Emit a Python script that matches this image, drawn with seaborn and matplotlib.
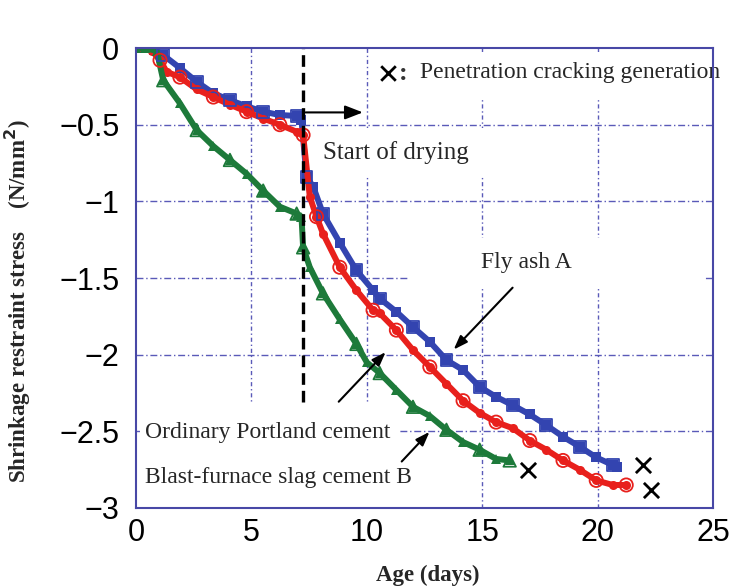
import matplotlib
matplotlib.use("Agg")
import matplotlib.pyplot as plt
from matplotlib.patches import Rectangle
import seaborn as sns
import pandas as pd

# ---------------- data ----------------
fly_x = [0.0, 0.4, 0.8, 1.18, 1.9, 2.63, 3.35, 4.07, 4.79, 5.51, 6.23, 6.96, 7.17,
         7.39, 7.68, 8.1, 8.83, 9.55, 10.27, 10.56, 11.28, 12.0, 12.73, 13.45, 14.17,
         14.89, 15.6, 16.33, 17.06, 17.78, 18.5, 19.22, 19.94, 20.66, 20.85]
fly_y = [0.0, 0.0, -0.01, -0.046, -0.13, -0.22, -0.295, -0.34, -0.38, -0.415, -0.437, -0.443, -0.47,
         -0.84, -0.905, -1.08, -1.27, -1.45, -1.58, -1.634, -1.72, -1.82, -1.916, -2.035, -2.10,
         -2.21, -2.275, -2.33, -2.39, -2.46, -2.535, -2.60, -2.67, -2.72, -2.73]

opc_x = [0.0, 0.3, 0.7, 1.04, 1.33, 1.9, 2.63, 3.35, 4.07, 4.79, 5.51, 6.23, 6.96, 7.24,
         7.53, 7.82, 8.1, 8.83, 9.55, 10.27, 10.56, 11.28, 12.0, 12.73, 13.45, 14.17,
         14.89, 15.6, 16.33, 17.06, 17.78, 18.5, 19.22, 19.94, 20.66, 21.24]
opc_y = [0.0, 0.0, -0.02, -0.08, -0.155, -0.19, -0.27, -0.32, -0.37, -0.415, -0.46, -0.50, -0.546, -0.567,
         -0.97, -1.10, -1.21, -1.43, -1.58, -1.71, -1.73, -1.84, -1.97, -2.08, -2.19, -2.30,
         -2.38, -2.44, -2.48, -2.56, -2.62, -2.69, -2.75, -2.82, -2.85, -2.85]

bfs_x = [0.0, 0.4, 0.9, 1.18, 1.9, 2.63, 3.35, 4.07, 4.79, 5.51, 6.23, 6.96, 7.17,
         7.24, 7.53, 8.1, 8.83, 9.55, 10.0, 10.56, 11.28, 12.0, 12.73, 13.45, 14.17,
         14.89, 15.6, 16.19]
bfs_y = [0.0, 0.0, -0.02, -0.21, -0.36, -0.535, -0.64, -0.73, -0.82, -0.93, -1.035, -1.08, -1.10,
         -1.30, -1.43, -1.60, -1.77, -1.93, -2.05, -2.12, -2.23, -2.34, -2.40, -2.49, -2.57,
         -2.62, -2.68, -2.69]

crack_x = [16.97, 21.95, 22.3]
crack_y = [-2.75, -2.72, -2.88]

drying_start = 7.23

x_ticks = [0, 5, 10, 15, 20, 25]
y_ticks = [0, -0.5, -1, -1.5, -2, -2.5, -3]
y_ticklabels = ["0", "\u22120.5", "\u22121", "\u22121.5", "\u22122", "\u22122.5", "\u22123"]

# ---------------- styling ----------------
sns.set_theme(style="white")
plt.rcParams["font.family"] = ["Liberation Sans", "DejaVu Sans"]
plt.rcParams["axes.unicode_minus"] = True

BLUE = "#3344b0"
RED = "#e8201c"
GREEN = "#1d7a3a"
AX_COL = "#4848a6"
GRID_COL = "#5a5ab8"
SERIF = ["Liberation Serif", "DejaVu Serif"]

fig = plt.figure(figsize=(7.34, 5.87), dpi=100)
ax = fig.add_axes([0.1853, 0.1346, 0.7861, 0.7836])

series = [
    ("Fly ash A", fly_x, fly_y, BLUE, "s", 8.5),
    ("Ordinary Portland cement", opc_x, opc_y, RED, "o", 9.5),
    ("Blast-furnace slag cement B", bfs_x, bfs_y, GREEN, "^", 9),
]

for name, xs, ys, col, mk, ms in series:
    df = pd.DataFrame({"Age": xs, "Stress": ys})
    sns.lineplot(data=df, x="Age", y="Stress", ax=ax, color=col, lw=4.3,
                 marker=mk, markersize=6.5, markeredgewidth=0, zorder=3,
                 estimator=None, sort=False)
    sub = df[df["Age"] >= 1.0].iloc[::2]
    sns.scatterplot(data=sub, x="Age", y="Stress", ax=ax, marker=mk, s=ms ** 2,
                    facecolors="none", edgecolor=col, linewidth=1.3, zorder=3.5)

# crack markers
cdf = pd.DataFrame({"Age": crack_x, "Stress": crack_y})
sns.scatterplot(data=cdf, x="Age", y="Stress", ax=ax, marker="x", s=120,
                color="black", linewidth=2, zorder=5)

# start of drying dashed line
ax.axvline(drying_start, color="black", lw=2.4, dashes=(3.5, 1.8), zorder=4)

# axes
ax.set_xlim(0, 25)
ax.set_ylim(-3, 0)
ax.set_xticks(x_ticks)
ax.set_yticks(y_ticks)
ax.set_yticklabels(y_ticklabels)
ax.tick_params(axis="both", labelsize=22, colors="black", length=4,
               direction="in", width=1.2)
ax.tick_params(axis="x", pad=7)
ax.tick_params(axis="y", pad=12)
for t in ax.get_xticklines() + ax.get_yticklines():
    t.set_color(AX_COL)
    t.set_zorder(7)
for s in ax.spines.values():
    s.set_color(AX_COL)
    s.set_linewidth(1.5)
    s.set_visible(True)
    s.set_zorder(7)

for yv in y_ticks[1:-1]:
    ax.axhline(yv, color=GRID_COL, lw=1.0, ls=(0, (5, 2, 1, 2)), zorder=1)
for xv in x_ticks[1:-1]:
    ax.axvline(xv, color=GRID_COL, lw=1.0, ls=(0, (3, 2, 1, 2)), zorder=1)

ax.set_xlabel("Age (days)", fontsize=16.5, fontweight="bold", family=SERIF)
ax.xaxis.set_label_coords(0.505, -0.124)
ax.set_ylabel("Shrinkage restraint stress    (N/mm$^\\mathbf{2}$)", fontsize=16.5,
              fontweight="bold", family=SERIF)
ax.yaxis.set_label_coords(-0.178, 0.45)

# white label panels (annotation backgrounds)
def panel(x0, x1, y0, y1):
    ax.add_patch(Rectangle((x0, y0), x1 - x0, y1 - y0, facecolor="white",
                           edgecolor="none", zorder=5.5, clip_on=True))

panel(7.88, 15.1, -0.835, -0.52)      # Start of drying
panel(12.08, 24.76, -0.34, -0.026)    # Penetration cracking generation
panel(11.86, 24.63, -1.56, -1.24)     # Fly ash A
panel(0.17, 11.43, -3.0, -2.316)      # OPC / BFS

# annotations
ax.annotate("", xy=(9.95, -0.42), xytext=(drying_start, -0.42),
            arrowprops=dict(arrowstyle="-|>,head_length=0.9,head_width=0.35",
                            color="black", lw=1.5), zorder=6)
ax.text(8.1, -0.68, "Start of drying", fontsize=18, family=SERIF, va="center",
        ha="left", zorder=6)

ax.scatter([10.9], [-0.16], marker="x", s=110, color="black", linewidth=2, zorder=6)
ax.text(11.6, -0.165, ":", fontsize=19, family=SERIF, va="center", ha="center",
        fontweight="bold", color="#333333", zorder=6)
ax.text(12.3, -0.16, "Penetration cracking generation", fontsize=17, family=SERIF,
        va="center", ha="left", zorder=6, clip_on=False)

ax.text(16.9, -1.40, "Fly ash A", fontsize=17, family=SERIF, va="center", ha="center",
        zorder=6)
ax.annotate("", xy=(13.68, -1.98), xytext=(16.4, -1.55),
            arrowprops=dict(arrowstyle="-|>,head_length=0.7,head_width=0.25",
                            color="black", lw=1.5), zorder=6)

ax.text(0.4, -2.505, "Ordinary Portland cement", fontsize=17, family=SERIF,
        va="center", ha="left", zorder=6)
ax.text(0.4, -2.80, "Blast-furnace slag cement B", fontsize=17, family=SERIF,
        va="center", ha="left", zorder=6,
        bbox=dict(facecolor="white", edgecolor="none", pad=2))
ax.annotate("", xy=(10.9, -1.97), xytext=(8.7, -2.32),
            arrowprops=dict(arrowstyle="-|>,head_length=0.7,head_width=0.25",
                            color="black", lw=1.5), zorder=6)
ax.annotate("", xy=(12.8, -2.49), xytext=(11.43, -2.71),
            arrowprops=dict(arrowstyle="-|>,head_length=0.7,head_width=0.25",
                            color="black", lw=1.5), zorder=6)

ax.set_facecolor("white")
fig.savefig("out.png", dpi=100, facecolor="white")
